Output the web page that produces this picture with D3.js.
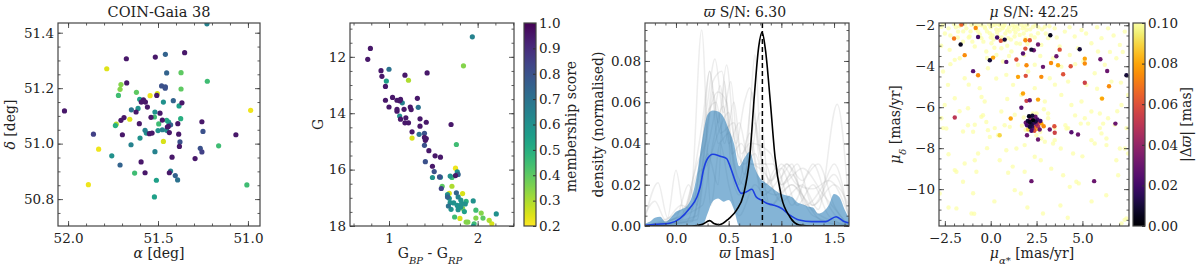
<!DOCTYPE html>
<html>
<head>
<meta charset="utf-8">
<script src="https://cdn.jsdelivr.net/npm/d3@7"></script>
<style>
body { margin: 0; background: #fff; }
text { font-family: "DejaVu Serif", serif; fill: #222; }
</style>
</head>
<body>
<script>
// ---- panel 1 : sky positions ----
var ra = [52.020,51.859,51.887,51.830,51.785,51.676,51.674,51.706,51.711,51.720,
          51.737,51.732,51.757,51.711,51.698,51.706,51.689,51.657,51.650,51.648,
          51.620,51.630,51.622,51.602,51.611,51.604,51.594,51.600,51.581,51.576,
          51.593,51.570,51.559,51.572,51.572,51.565,51.544,51.539,51.548,51.533,
          51.520,51.517,51.515,51.517,51.509,51.520,51.507,51.504,51.500,51.496,
          51.489,51.476,51.480,51.470,51.476,51.459,51.459,51.470,51.452,51.460,
          51.452,51.448,51.443,51.452,51.441,51.437,51.430,51.437,51.430,51.422,
          51.415,51.404,51.391,51.385,51.381,51.378,51.383,51.374,51.372,51.372,
          51.367,51.352,51.390,51.294,51.265,51.256,51.256,51.250,51.228,51.226,
          51.163,51.067,51.006,50.985];
var dec = [51.118,51.034,50.852,50.980,51.270,51.306,51.219,51.213,51.196,51.174,
           51.065,51.070,50.956,50.923,51.032,51.084,51.094,51.088,50.996,51.122,
           51.185,50.894,51.114,51.160,51.127,51.072,50.934,51.020,51.158,51.152,
           51.150,51.150,51.132,50.895,51.048,51.038,51.173,51.095,51.036,51.038,
           51.096,51.114,51.312,50.971,50.868,50.808,51.174,51.180,51.047,51.071,
           51.110,51.085,51.208,51.008,51.050,51.322,51.205,51.150,51.255,51.200,
           51.084,51.060,51.062,51.048,51.078,51.040,51.068,50.895,50.901,50.951,
           51.155,50.885,50.869,51.034,50.990,51.006,51.136,51.090,51.256,51.197,
           51.147,51.328,51.072,50.946,50.983,50.970,51.079,51.044,51.432,51.225,
           50.992,51.032,50.851,51.120];
var memb1 = [0.95,0.85,0.22,0.22,0.24,0.95,0.95,0.35,0.35,0.45,
             0.50,0.30,0.60,0.75,0.95,0.95,0.95,0.24,0.65,0.70,
             0.40,0.45,0.95,0.55,0.60,0.95,0.95,0.60,0.95,0.95,
             0.95,0.95,0.95,0.95,0.65,0.60,0.22,0.95,0.95,0.95,
             0.45,0.60,0.95,0.65,0.55,0.55,0.95,0.25,0.60,0.45,
             0.95,0.95,0.80,0.25,0.65,0.75,0.80,0.60,0.75,0.80,
             0.50,0.95,0.95,0.60,0.55,0.95,0.75,0.95,0.65,0.95,
             0.75,0.75,0.70,0.95,0.95,0.80,0.55,0.50,0.40,0.40,
             0.95,0.95,0.95,0.95,0.80,0.85,0.95,0.80,0.65,0.45,
             0.45,0.95,0.45,0.22];

// ---- panel 2 : colour-magnitude diagram ----
var bprp = [0.76,0.79,0.91,1.00,0.92,0.96,0.97,0.96,1.00,1.04,
            1.09,1.12,1.13,1.15,1.09,1.09,1.12,1.13,1.17,1.18,
            1.22,1.19,1.18,1.22,1.24,1.25,1.26,1.26,1.32,1.33,
            1.35,1.35,1.34,1.40,1.42,1.43,1.40,1.41,1.42,1.40,
            1.45,1.41,1.52,1.58,1.49,1.51,1.49,1.57,1.58,1.59,
            1.60,1.94,1.70,1.84,1.76,1.75,1.77,1.77,1.78,1.75,
            1.69,1.71,1.71,1.68,1.66,1.66,1.68,1.69,1.67,1.70,
            1.73,1.76,1.78,1.81,1.83,1.79,1.77,1.78,1.81,1.83,
            1.85,1.86,1.87,1.82,1.95,1.74,1.80,1.87,1.89,1.96,
            1.95,1.98,1.98,2.04,2.06,2.13,2.16,2.21];
var gmag = [12.09,11.70,12.49,12.44,12.69,13.05,12.86,13.54,13.78,13.44,
            13.54,13.56,13.51,13.63,13.93,13.86,14.10,14.21,13.86,12.65,
            12.83,14.16,14.34,14.34,13.78,13.87,14.66,14.88,13.47,13.79,
            14.20,14.46,14.75,14.71,14.32,12.57,14.86,14.96,14.90,15.14,
            15.33,15.72,15.51,15.56,15.88,16.07,16.28,16.26,16.27,16.67,
            16.59,11.29,14.40,12.32,15.11,15.95,16.08,16.17,16.17,16.21,
            16.23,16.28,16.59,16.84,16.89,16.97,17.02,17.17,17.29,17.41,
            17.18,16.82,16.97,17.08,16.85,17.30,17.27,17.42,17.33,17.37,
            17.49,17.22,17.13,17.20,17.11,17.68,17.73,17.86,17.86,17.92,
            18.01,17.44,17.72,17.54,17.72,17.80,17.92,17.57];
var memb2 = [0.95,0.95,0.95,0.70,0.95,0.95,0.55,0.95,0.95,0.95,
             0.95,0.95,0.95,0.65,0.95,0.95,0.60,0.95,0.95,0.95,
             0.30,0.95,0.95,0.95,0.95,0.95,0.95,0.25,0.95,0.70,
             0.95,0.95,0.70,0.80,0.95,0.95,0.95,0.95,0.95,0.80,
             0.95,0.80,0.95,0.95,0.95,0.80,0.60,0.80,0.65,0.85,
             0.40,0.65,0.95,0.35,0.45,0.22,0.60,0.60,0.75,0.95,
             0.60,0.45,0.30,0.25,0.60,0.75,0.60,0.60,0.70,0.60,
             0.60,0.75,0.65,0.60,0.25,0.45,0.60,0.60,0.60,0.35,
             0.55,0.60,0.50,0.60,0.60,0.45,0.25,0.35,0.35,0.45,
             0.60,0.45,0.35,0.35,0.40,0.30,0.25,0.60];
var membTicks = [0.2,0.3,0.4,0.5,0.6,0.7,0.8,0.9,1.0];

// ---- panel 3 : parallax densities [plx, density] ----
var blackLine = [[-0.3,0],[0.15,0],[0.25,0.0008],[0.32,0.0026],[0.36,0.0012],[0.41,0.0006],
  [0.5,0.0035],[0.575,0.0077],[0.64,0.015],[0.70,0.0335],[0.745,0.064],[0.785,0.0868],
  [0.817,0.094],[0.85,0.085],[0.894,0.061],[0.94,0.0335],[1.0,0.0142],[1.08,0.0045],
  [1.17,0.0005],[1.3,0],[1.64,0]];
var blueLine = [[-0.3,0.0003],[-0.2,0.0008],[-0.06,0.0013],[0.04,0.0037],[0.13,0.0086],
  [0.2,0.0142],[0.23,0.019],[0.26,0.027],[0.3,0.0327],[0.35,0.0348],[0.42,0.0338],
  [0.48,0.0327],[0.52,0.028],[0.57,0.0207],[0.62,0.0158],[0.67,0.0166],[0.72,0.0178],
  [0.76,0.0142],[0.81,0.0126],[0.86,0.011],[0.92,0.0102],[1.0,0.0086],[1.08,0.0053],
  [1.17,0.0029],[1.29,0.0021],[1.42,0.0021],[1.52,0.0045],[1.6,0.002],[1.64,0.0015]];
var bandX  = [-0.30,-0.25,-0.20,-0.15,-0.10,-0.05,0.00,0.05,0.10,0.15,0.20,0.25,0.30,0.35,0.40,
              0.45,0.50,0.55,0.60,0.65,0.70,0.75,0.80,0.85,0.90,0.95,1.00,1.05,1.10,1.15,
              1.20,1.25,1.30,1.35,1.40,1.45,1.50,1.55,1.60,1.65];
var bandHi = [0.001,0.002,0.004,0.0045,0.002,0.004,0.0069,0.008,0.0094,0.014,0.025,0.042,0.054,0.056,0.0555,
              0.053,0.047,0.040,0.029,0.033,0.036,0.028,0.023,0.021,0.019,0.017,0.0155,0.0148,0.014,0.0115,
              0.0105,0.0095,0.009,0.006,0.007,0.010,0.0155,0.014,0.008,0.003];
var bandLo = [0,0,0,0,0,0,0,0,0,0,0,0,0.006,0.012,0.0133,
              0.0118,0.0126,0.008,0,0,0,0,0,0,0,0,0,0,0,0,
              0,0,0,0,0,0,0,0,0,0];
var greyCurves = [
  [[-0.3,0.002],[-0.17,0.021],[-0.08,0.004],[0.0,0.027],[0.08,0.006],[0.15,0.018],[0.244,0.095],[0.33,0.01],[0.42,0.04],[0.5,0.02],[0.6,0.005],[0.75,0.02],[0.9,0.01],[1.1,0.02],[1.3,0.005],[1.64,0]],
  [[-0.3,0],[0.05,0.003],[0.15,0.02],[0.25,0.05],[0.32,0.075],[0.4,0.05],[0.48,0.078],[0.56,0.04],[0.65,0.03],[0.75,0.035],[0.85,0.02],[1.0,0.028],[1.15,0.01],[1.3,0.02],[1.45,0.005],[1.64,0]],
  [[-0.3,0],[0.1,0.002],[0.2,0.02],[0.3,0.06],[0.37,0.081],[0.45,0.055],[0.52,0.07],[0.6,0.03],[0.7,0.045],[0.8,0.02],[0.95,0.015],[1.05,0.03],[1.2,0.015],[1.4,0.002],[1.64,0]],
  [[-0.3,0],[0.15,0.003],[0.28,0.04],[0.35,0.07],[0.435,0.075],[0.5,0.05],[0.58,0.02],[0.7,0.055],[0.75,0.083],[0.8,0.04],[0.9,0.01],[1.1,0.025],[1.25,0.01],[1.64,0]],
  [[-0.3,0],[0.2,0.005],[0.3,0.05],[0.4,0.065],[0.48,0.06],[0.55,0.03],[0.65,0.02],[0.72,0.065],[0.8,0.03],[0.92,0.03],[1.0,0.02],[1.15,0.03],[1.3,0.01],[1.5,0.025],[1.64,0.005]],
  [[-0.3,0.005],[-0.2,0.012],[-0.1,0.003],[0.05,0.01],[0.15,0.008],[0.25,0.04],[0.32,0.075],[0.4,0.04],[0.5,0.045],[0.6,0.02],[0.7,0.03],[0.85,0.025],[1.0,0.012],[1.2,0.02],[1.35,0.008],[1.53,0.059],[1.64,0.01]],
  [[-0.3,0],[0.1,0.01],[0.2,0.025],[0.3,0.03],[0.4,0.045],[0.5,0.055],[0.57,0.04],[0.65,0.06],[0.7,0.067],[0.78,0.04],[0.9,0.022],[1.05,0.03],[1.2,0.022],[1.3,0.03],[1.45,0.01],[1.64,0]],
  [[-0.3,0],[0.0,0.004],[0.12,0.02],[0.2,0.01],[0.3,0.055],[0.38,0.06],[0.46,0.04],[0.55,0.06],[0.62,0.035],[0.7,0.04],[0.82,0.015],[1.0,0.024],[1.1,0.03],[1.22,0.01],[1.4,0.02],[1.5,0.03],[1.64,0.004]],
  [[-0.3,0],[0.15,0.002],[0.25,0.025],[0.35,0.05],[0.42,0.068],[0.5,0.04],[0.6,0.05],[0.68,0.035],[0.75,0.05],[0.85,0.02],[0.95,0.028],[1.1,0.01],[1.25,0.025],[1.35,0.03],[1.5,0.01],[1.64,0]],
  [[-0.3,0],[0.2,0.003],[0.3,0.035],[0.4,0.02],[0.46,0.07],[0.52,0.03],[0.6,0.015],[0.7,0.03],[0.8,0.055],[0.88,0.02],[1.0,0.03],[1.15,0.02],[1.3,0.018],[1.45,0.022],[1.64,0.005]],
  [[-0.3,0],[0.05,0.005],[0.2,0.03],[0.3,0.045],[0.35,0.065],[0.42,0.045],[0.55,0.05],[0.65,0.025],[0.72,0.04],[0.9,0.035],[1.0,0.02],[1.2,0.028],[1.4,0.015],[1.64,0]],
  [[-0.3,0],[0.25,0.01],[0.35,0.04],[0.45,0.058],[0.53,0.035],[0.62,0.04],[0.72,0.03],[0.85,0.03],[0.95,0.015],[1.1,0.02],[1.3,0.01],[1.5,0.02],[1.64,0.01]]
];
var plxMode = 0.82;

// ---- panel 4 : proper motions ----
// field stars, all with |dplx| >= 0.1  [pmra, pmdec]
var fieldStars = [
  [-2.69,-2.07],[-2.24,-3.20],[-1.96,-3.69],[-1.78,-2.31],[-1.51,-2.80],[-1.33,-2.15],[-1.15,-2.55],[-1.05,-1.98],[-0.87,-3.04],[-0.69,-2.31],
  [-0.51,-2.63],[-0.33,-2.07],[-0.24,-3.28],[-0.05,-2.39],[0.04,-2.88],[0.22,-1.98],[0.31,-3.45],[0.40,-2.55],[0.49,-2.23],[0.58,-3.12],
  [0.67,-3.77],[0.76,-1.98],[0.95,-2.63],[1.04,-2.31],[1.13,-3.28],[1.31,-2.07],[1.40,-2.88],[1.49,-3.93],[1.58,-2.47],[1.67,-1.98],
  [1.82,-3.45],[1.95,-2.23],[2.04,-4.26],[2.13,-2.72],[2.22,-3.20],[2.31,-2.07],[2.40,-3.93],[2.58,-2.39],[2.76,-2.96],[2.95,-2.07],
  [3.13,-2.63],[3.22,-4.59],[3.40,-3.61],[3.49,-2.15],[3.76,-3.04],[3.85,-4.02],[4.04,-2.31],[4.22,-4.75],[4.31,-3.45],[4.58,-2.55],
  [4.76,-3.12],[4.95,-2.23],[5.04,-3.77],[5.22,-4.91],[5.49,-2.88],[5.67,-4.34],[5.85,-3.28],[6.04,-2.63],[6.22,-3.93],[6.40,-2.15],
  [6.58,-4.75],[6.85,-3.61],[7.04,-2.96],[7.31,-2.31],[7.49,-5.40],[-2.60,-4.26],[-2.33,-4.91],[-1.69,-3.61],[-1.42,-4.59],[-0.60,-5.07],
  [-0.15,-4.10],[0.85,-4.42],[1.22,-4.91],[1.67,-5.40],[2.40,-5.07],[2.95,-5.72],[3.85,-5.40],[4.40,-5.89],[4.95,-5.72],[5.49,-6.21],
  [6.04,-5.56],[6.40,-6.54],[7.13,-5.89],[7.40,-7.02],[-2.51,-5.89],[-1.96,-5.56],[-1.24,-6.05],[-0.33,-5.72],[-0.87,-6.86],[-2.69,-6.54],
  [0.58,-6.21],[1.31,-6.37],[3.13,-6.54],[3.49,-7.02],[4.22,-7.02],[5.13,-6.54],[5.95,-7.02],[6.76,-6.86],[-1.51,-7.19],[0.22,-7.02],
  [-2.60,-7.02],[-0.5,-2.0],[0.0,-2.1],[0.5,-2.0],[1.0,-2.1],[1.5,-2.2],[2.0,-2.0],[-0.2,-2.3],[0.3,-2.2],[0.8,-2.4],
  [1.2,-2.0],[1.8,-2.4],[-0.8,-2.2],[0.6,-2.6],[1.1,-2.7],[-1.5,-2.3],[2.6,-2.1],[0.1,-2.5],[-0.4,-2.8],[1.6,-2.9],
  [-1.2,-2.6],[2.2,-2.5],[3.0,-2.4],[-2.2,-2.5],[0.9,-3.0],[0.2,-3.1],[-0.9,-1.95],[0.65,-2.15],[1.35,-2.35],[1.9,-2.65],
  [-0.1,-1.95],[0.4,-1.95],[2.4,-2.6],[-1.9,-2.1],[-2.5,-2.4],[1.75,-2.15],[0.15,-2.7],[-2.42,-7.04],[-1.96,-9.07],[-1.51,-9.64],
  [-1.42,-8.75],[-1.24,-6.88],[-0.96,-7.20],[-0.87,-8.59],[-0.78,-9.15],[-0.69,-8.26],[-0.51,-6.47],[-0.42,-6.39],[-0.24,-6.72],[-0.15,-7.12],
  [-0.05,-7.45],[0.40,-7.37],[0.49,-8.59],[0.76,-6.88],[0.85,-8.10],[1.04,-6.96],[1.31,-10.05],[1.40,-8.02],[1.64,-10.21],[1.85,-7.85],
  [1.85,-9.15],[2.40,-8.42],[2.49,-7.37],[2.73,-8.59],[2.76,-7.53],[2.95,-7.69],[2.85,-11.19],[3.13,-6.31],[3.40,-7.77],[3.49,-7.61],
  [3.82,-8.02],[3.95,-9.32],[4.07,-6.88],[4.13,-7.04],[4.31,-9.89],[4.49,-8.26],[4.67,-9.64],[4.80,-9.72],[4.91,-6.80],[5.31,-6.80],
  [5.49,-7.61],[5.67,-7.77],[5.95,-6.31],[6.04,-7.28],[6.13,-6.80],[6.31,-7.53],[6.31,-7.85],[6.85,-8.59],[6.95,-9.32],[7.04,-8.02],
  [7.31,-8.02],[7.40,-11.43],[7.49,-8.26],[-1.87,-10.94],[-1.05,-11.19],[-2.78,-10.21],[7.13,-11.67],[1.8,-6.5],[2.5,-6.3],[2.7,-7.2],
  [1.9,-7.1],[2.3,-6.3],[1.7,-6.9],[-2.3,-10.9],[-0.9,-11.2],[3.8,-10.8],[7.3,-11.5],[-0.96,-10.2],[0.95,-9.2],[-1.87,-9.15],
  [-2.6,-1.95],[-2.3,-2.15],[-2.0,-1.95],[-1.7,-2.05],[-1.4,-1.95],[-1.1,-2.3],[-0.7,-2.0],[-0.3,-2.15],[0.1,-2.0],[0.35,-2.35],
  [0.7,-2.05],[0.9,-2.25],[1.25,-2.2],[1.45,-2.05],[1.85,-2.05],[2.15,-2.2],[2.45,-2.0],[2.8,-2.2],[3.2,-2.05],[-0.6,-2.45],
  [0.0,-2.6],[0.75,-2.75],[1.3,-2.55],[-1.0,-2.8],[2.0,-2.9],[-1.8,-2.6],[3.6,-2.6],[4.3,-2.1],[5.2,-2.4],[5.8,-2.1],
  [6.7,-2.5],[7.2,-3.3],[-2.7,-3.0],[-0.2,-3.6],[1.0,-3.5],[2.7,-3.5],[4.6,-3.9],[6.5,-3.3],[-2.2,-3.9],[-1.2,-4.9],
  [0.3,-4.6],[3.5,-4.9],[5.8,-5.1],[7.1,-4.8],[-0.5,-5.5],[0.9,-5.6],[2.9,-6.1],[4.6,-6.4],[6.9,-6.2],[-1.7,-6.2],
  [-0.2,-8.0],[1.2,-8.9],[3.3,-9.0],[5.0,-8.4],[6.3,-10.3],[-2.3,-8.3],[0.2,-10.6],[2.0,-10.9],[5.5,-10.6],[4.2,-11.4]
];
// stars with |dplx| < 0.1  [pmra, pmdec, |dplx|]
var pmStars = [
  [-1.64,-2.94,0.005],[-2.00,-2.65,0.07],[-1.60,-1.97,0.065],[-0.82,-2.13,0.075],[-0.69,-2.57,0.02],
  [-1.42,-3.46,0.075],[-0.96,-4.24,0.025],[-0.69,-4.44,0.075],[-1.96,-6.50,0.05],[-0.05,-3.71,0.01],
  [0.13,-3.58,0.08],[0.35,-2.60,0.02],[0.55,-2.76,0.06],[0.76,-2.70,0.01],[0.85,-3.79,0.025],
  [1.09,-6.55,0.08],[0.49,-7.37,0.09],[1.49,-4.52,0.08],[1.40,-3.67,0.06],[1.76,-3.38,0.025],
  [1.89,-2.73,0.075],[2.13,-2.73,0.06],[2.22,-3.19,0.01],[2.35,-3.22,0.03],[2.58,-2.94,0.03],
  [1.89,-3.14,0.06],[1.95,-3.95,0.075],[1.91,-4.47,0.06],[1.76,-5.33,0.08],[1.95,-5.69,0.055],
  [2.13,-5.66,0.03],[1.67,-6.03,0.025],[2.58,-5.63,0.08],[2.85,-4.03,0.03],[2.76,-4.52,0.075],
  [3.25,-2.49,0.005],[3.29,-3.84,0.075],[3.58,-3.51,0.03],[3.76,-3.19,0.06],[3.67,-3.95,0.08],
  [3.95,-4.39,0.06],[4.36,-4.00,0.06],[4.85,-3.17,0.01],[5.13,-3.63,0.08],[5.13,-3.87,0.075],
  [5.13,-4.81,0.055],[5.98,-3.66,0.03],[6.35,-4.23,0.03],[6.45,-4.98,0.075],[7.40,-4.44,0.01],
  [6.07,-5.58,0.08],[6.80,-6.80,0.03],[3.47,-6.93,0.06],[3.49,-7.25,0.055],[3.22,-7.09,0.03],
  [4.40,-7.22,0.025],[4.76,-7.33,0.03],[1.98,-7.37,0.03],[2.58,-7.58,0.03],[2.22,-9.61,0.03],
  [5.64,-9.61,0.03],[2.89,-6.93,0.075],
  [2.09,-6.44,0.005],[2.27,-6.42,0.01],[2.44,-6.47,0.03],[2.55,-6.60,0.02],[2.64,-6.72,0.06],
  [2.76,-6.80,0.08],[2.02,-6.67,0.01],[2.13,-6.72,0.005],[2.22,-6.83,0.01],[2.35,-6.76,0.02],
  [2.49,-6.83,0.04],[1.98,-6.88,0.02],[2.13,-6.96,0.01],[2.27,-7.02,0.03],[2.42,-6.96,0.07],
  [2.58,-6.93,0.05],[2.04,-7.09,0.09],[2.22,-7.15,0.02],[2.38,-7.15,0.06],[2.67,-7.09,0.03],
  [2.16,-6.57,0.04],[2.31,-6.63,0.0],[2.45,-6.70,0.01],[1.91,-6.76,0.03],[2.05,-6.83,0.06],
  [2.25,-6.93,0.015],[2.53,-7.06,0.085],[2.71,-6.67,0.02]
];
var dplxTicks = [0, 0.02, 0.04, 0.06, 0.08, 0.10];

var svg = d3.select("body").append("svg").attr("width", 1200).attr("height", 264);
var defs = svg.append("defs");
var TOP = 23, BOT = 226, PH = BOT - TOP;

function step(a, b, s) { return d3.range(Math.round((b - a) / s) + 1).map(function(i) { return +(a + i * s).toFixed(4); }); }

function axes(g, x, y, w, xt, yt, xm, ym, xf, yf) {
  function ax(gen, tr, vals, size, pad, fmt) {
    var a = g.append("g").attr("transform", tr)
      .call(gen.tickValues(vals).tickSize(size).tickPadding(pad).tickFormat(fmt));
    a.select(".domain").remove();
    a.attr("font-family", "DejaVu Serif").attr("font-size", 13.5).attr("color", "#333");
    a.selectAll("line").attr("stroke-width", 0.8);
    a.selectAll("text").style("fill", "#222");
  }
  ax(d3.axisBottom(x), "translate(0," + PH + ")", xm, -2.5, 0, "");
  ax(d3.axisTop(x), "translate(0,0)", xm, -2.5, 0, "");
  ax(d3.axisLeft(y), "translate(0,0)", ym, -2.5, 0, "");
  ax(d3.axisRight(y), "translate(" + w + ",0)", ym, -2.5, 0, "");
  ax(d3.axisBottom(x), "translate(0," + PH + ")", xt, -5, 7.5, xf);
  ax(d3.axisTop(x), "translate(0,0)", xt, -5, 0, "");
  ax(d3.axisLeft(y), "translate(0,0)", yt, -5, 4, yf);
  ax(d3.axisRight(y), "translate(" + w + ",0)", yt, -5, 0, "");
  g.append("rect").attr("width", w).attr("height", PH)
    .attr("fill", "none").attr("stroke", "#444").attr("stroke-width", 1.2);
}

function clip(id, w) {
  defs.append("clipPath").attr("id", id).append("rect").attr("width", w).attr("height", PH);
}

function colorbar(left, w, interp, dom, ticks, fmt) {
  var id = "grad" + left;
  var gr = defs.append("linearGradient").attr("id", id)
    .attr("x1", 0).attr("y1", 1).attr("x2", 0).attr("y2", 0);
  d3.range(21).forEach(function(i) {
    gr.append("stop").attr("offset", i / 20).attr("stop-color", interp(i / 20));
  });
  var cy = d3.scaleLinear().domain(dom).range([PH, 0]);
  var g = svg.append("g").attr("transform", "translate(" + left + "," + TOP + ")");
  g.append("rect").attr("width", w).attr("height", PH).attr("fill", "url(#" + id + ")");
  var a = g.append("g").attr("transform", "translate(" + w + ",0)")
    .call(d3.axisRight(cy).tickValues(ticks).tickSize(-3).tickPadding(3).tickFormat(d3.format(fmt)));
  a.select(".domain").remove();
  a.attr("font-family", "DejaVu Serif").attr("font-size", 13.5).attr("color", "#333");
  a.selectAll("text").style("fill", "#222");
  g.append("rect").attr("width", w).attr("height", PH)
    .attr("fill", "none").attr("stroke", "#444").attr("stroke-width", 1.2);
}

function label(x, y, rot, parts) {
  var t = svg.append("text").attr("x", x).attr("y", y).attr("font-size", 14)
    .attr("text-anchor", "middle");
  if (rot) t.attr("transform", "rotate(-90," + x + "," + y + ")");
  parts.forEach(function(p) {
    var s = t.append("tspan").text(p[0]);
    if (p[1] && p[1].indexOf("i") >= 0) s.attr("font-style", "italic");
    if (p[1] && p[1].indexOf("s") >= 0) s.attr("baseline-shift", "sub").attr("font-size", 10);
  });
  return t;
}

var membColor = function(t) { return d3.interpolateViridis(1 - t); };
var membScale = function(m) { return membColor((m - 0.2) / 0.8); };

// ===== panel 1 =====
var p1L = 58, p1W = 202;
var x1 = d3.scaleLinear().domain([52.056, 50.933]).range([0, p1W]);
var y1 = d3.scaleLinear().domain([50.703, 51.435]).range([PH, 0]);
var g1 = svg.append("g").attr("transform", "translate(" + p1L + "," + TOP + ")");
clip("c1", p1W);
var idx1 = d3.range(ra.length).sort(function(a, b) { return memb1[a] - memb1[b]; });
g1.append("g").attr("clip-path", "url(#c1)").selectAll("circle").data(idx1).enter().append("circle")
  .attr("cx", function(i) { return x1(ra[i]); })
  .attr("cy", function(i) { return y1(dec[i]); })
  .attr("r", 2.6)
  .attr("fill", function(i) { return membScale(memb1[i]); });
axes(g1, x1, y1, p1W, [52.0, 51.5, 51.0], [50.8, 51.0, 51.2, 51.4],
  step(51.0, 52.0, 0.1), step(50.75, 51.4, 0.05), d3.format(".1f"), d3.format(".1f"));
svg.append("text").attr("x", p1L + p1W / 2).attr("y", 17).attr("font-size", 14.5)
  .attr("text-anchor", "middle").text("COIN-Gaia 38");
label(p1L + p1W / 2, 258, false, [["α", "i"], [" [deg]"]]);
label(15, TOP + PH / 2, true, [["δ", "i"], [" [deg]"]]);

// ===== panel 2 =====
var p2L = 350, p2W = 164;
var x2 = d3.scaleLinear().domain([0.56, 2.41]).range([0, p2W]);
var y2 = d3.scaleLinear().domain([10.8, 18]).range([0, PH]);
var g2 = svg.append("g").attr("transform", "translate(" + p2L + "," + TOP + ")");
clip("c2", p2W);
var idx2 = d3.range(bprp.length).sort(function(a, b) { return memb2[a] - memb2[b]; });
g2.append("g").attr("clip-path", "url(#c2)").selectAll("circle").data(idx2).enter().append("circle")
  .attr("cx", function(i) { return x2(bprp[i]); })
  .attr("cy", function(i) { return y2(gmag[i]); })
  .attr("r", 2.6)
  .attr("fill", function(i) { return membScale(memb2[i]); });
axes(g2, x2, y2, p2W, [1, 2], [12, 14, 16, 18],
  step(0.6, 2.4, 0.2), step(11, 18, 0.5), d3.format("d"), d3.format("d"));
label(p2L + p2W / 2 - 2, 258, false, [["G"], ["BP", "is"], [" - G"], ["RP", "is"]]);
label(323, TOP + PH / 2, true, [["G"]]);
colorbar(524, 12, membColor, [0.2, 1.0], membTicks, ".1f");
label(576, TOP + PH / 2 + 2, true, [["membership score"]]);

// ===== panel 3 =====
var p3L = 645, p3W = 204;
var x3 = d3.scaleLinear().domain([-0.294, 1.642]).range([0, p3W]);
var y3 = d3.scaleLinear().domain([0, 0.0984]).range([PH, 0]);
var g3 = svg.append("g").attr("transform", "translate(" + p3L + "," + TOP + ")");
clip("c3", p3W);
var c3 = g3.append("g").attr("clip-path", "url(#c3)");
var line3 = d3.line().x(function(d) { return x3(d[0]); }).y(function(d) { return y3(d[1]); })
  .curve(d3.curveMonotoneX);
c3.selectAll(".grey").data(greyCurves).enter().append("path")
  .attr("d", line3).attr("fill", "none").attr("stroke", "#999")
  .attr("stroke-opacity", 0.18).attr("stroke-width", 1.5);
var band = d3.area().x(function(i) { return x3(bandX[i]); })
  .y0(function(i) { return y3(bandLo[i]); }).y1(function(i) { return y3(bandHi[i]); })
  .curve(d3.curveMonotoneX);
c3.append("path").datum(d3.range(bandX.length)).attr("d", band)
  .attr("fill", "#1f77b4").attr("fill-opacity", 0.55);
c3.append("path").datum(blueLine).attr("d", line3).attr("fill", "none")
  .attr("stroke", "#1c3fe0").attr("stroke-width", 1.6);
c3.append("path").datum(blackLine).attr("d", line3).attr("fill", "none")
  .attr("stroke", "#000").attr("stroke-width", 1.6);
c3.append("line").attr("x1", x3(plxMode)).attr("x2", x3(plxMode)).attr("y1", 0).attr("y2", PH)
  .attr("stroke", "#000").attr("stroke-width", 1.5).attr("stroke-dasharray", "5,3");
axes(g3, x3, y3, p3W, [0, 0.5, 1.0, 1.5], [0, 0.02, 0.04, 0.06, 0.08],
  step(-0.2, 1.6, 0.1), step(0, 0.095, 0.005), d3.format(".1f"), d3.format(".2f"));
label(p3L + p3W / 2 - 2, 17, false, [["ϖ", "i"], [" S/N: 6.30"]]);
label(p3L + p3W / 2, 258, false, [["ϖ", "i"], [" [mas]"]]);
label(603, TOP + PH / 2, true, [["density (normalised)"]]);

// ===== panel 4 =====
var p4L = 939, p4W = 190;
var x4 = d3.scaleLinear().domain([-2.82, 7.54]).range([0, p4W]);
var y4 = d3.scaleLinear().domain([-11.8, -1.89]).range([PH, 0]);
var g4 = svg.append("g").attr("transform", "translate(" + p4L + "," + TOP + ")");
clip("c4", p4W);
var c4 = g4.append("g").attr("clip-path", "url(#c4)");
c4.selectAll(".field").data(fieldStars).enter().append("circle")
  .attr("cx", function(d) { return x4(d[0]); }).attr("cy", function(d) { return y4(d[1]); })
  .attr("r", 2.2).attr("fill", d3.interpolateInferno(1)).attr("fill-opacity", 0.7);
var dplxScale = function(v) { return d3.interpolateInferno(Math.min(v, 0.1) / 0.1); };
c4.selectAll(".memb").data(pmStars.slice().sort(function(a, b) { return b[2] - a[2]; }))
  .enter().append("circle")
  .attr("cx", function(d) { return x4(d[0]); }).attr("cy", function(d) { return y4(d[1]); })
  .attr("r", 2.2).attr("fill", function(d) { return dplxScale(d[2]); });
axes(g4, x4, y4, p4W, [-2.5, 0, 2.5, 5.0], [-10, -8, -6, -4, -2],
  step(-2.5, 7.5, 0.5), step(-11.5, -2, 0.5), d3.format(".1f"), d3.format("d"));
colorbar(1133, 12, d3.interpolateInferno, [0, 0.1], dplxTicks, ".2f");
label(p4L + p4W / 2, 17, false, [["μ", "i"], [" S/N: 42.25"]]);
label(p4L + p4W / 2 - 2, 258, false, [["μ", "i"], ["α*", "is"], [" [mas/yr]"]]);
label(900, TOP + PH / 2, true, [["μ", "i"], ["δ", "is"], [" [mas/yr]"]]);
label(1191, TOP + PH / 2, true, [["|Δ"], ["ϖ", "i"], ["| [mas]"]]);
</script>
</body>
</html>
